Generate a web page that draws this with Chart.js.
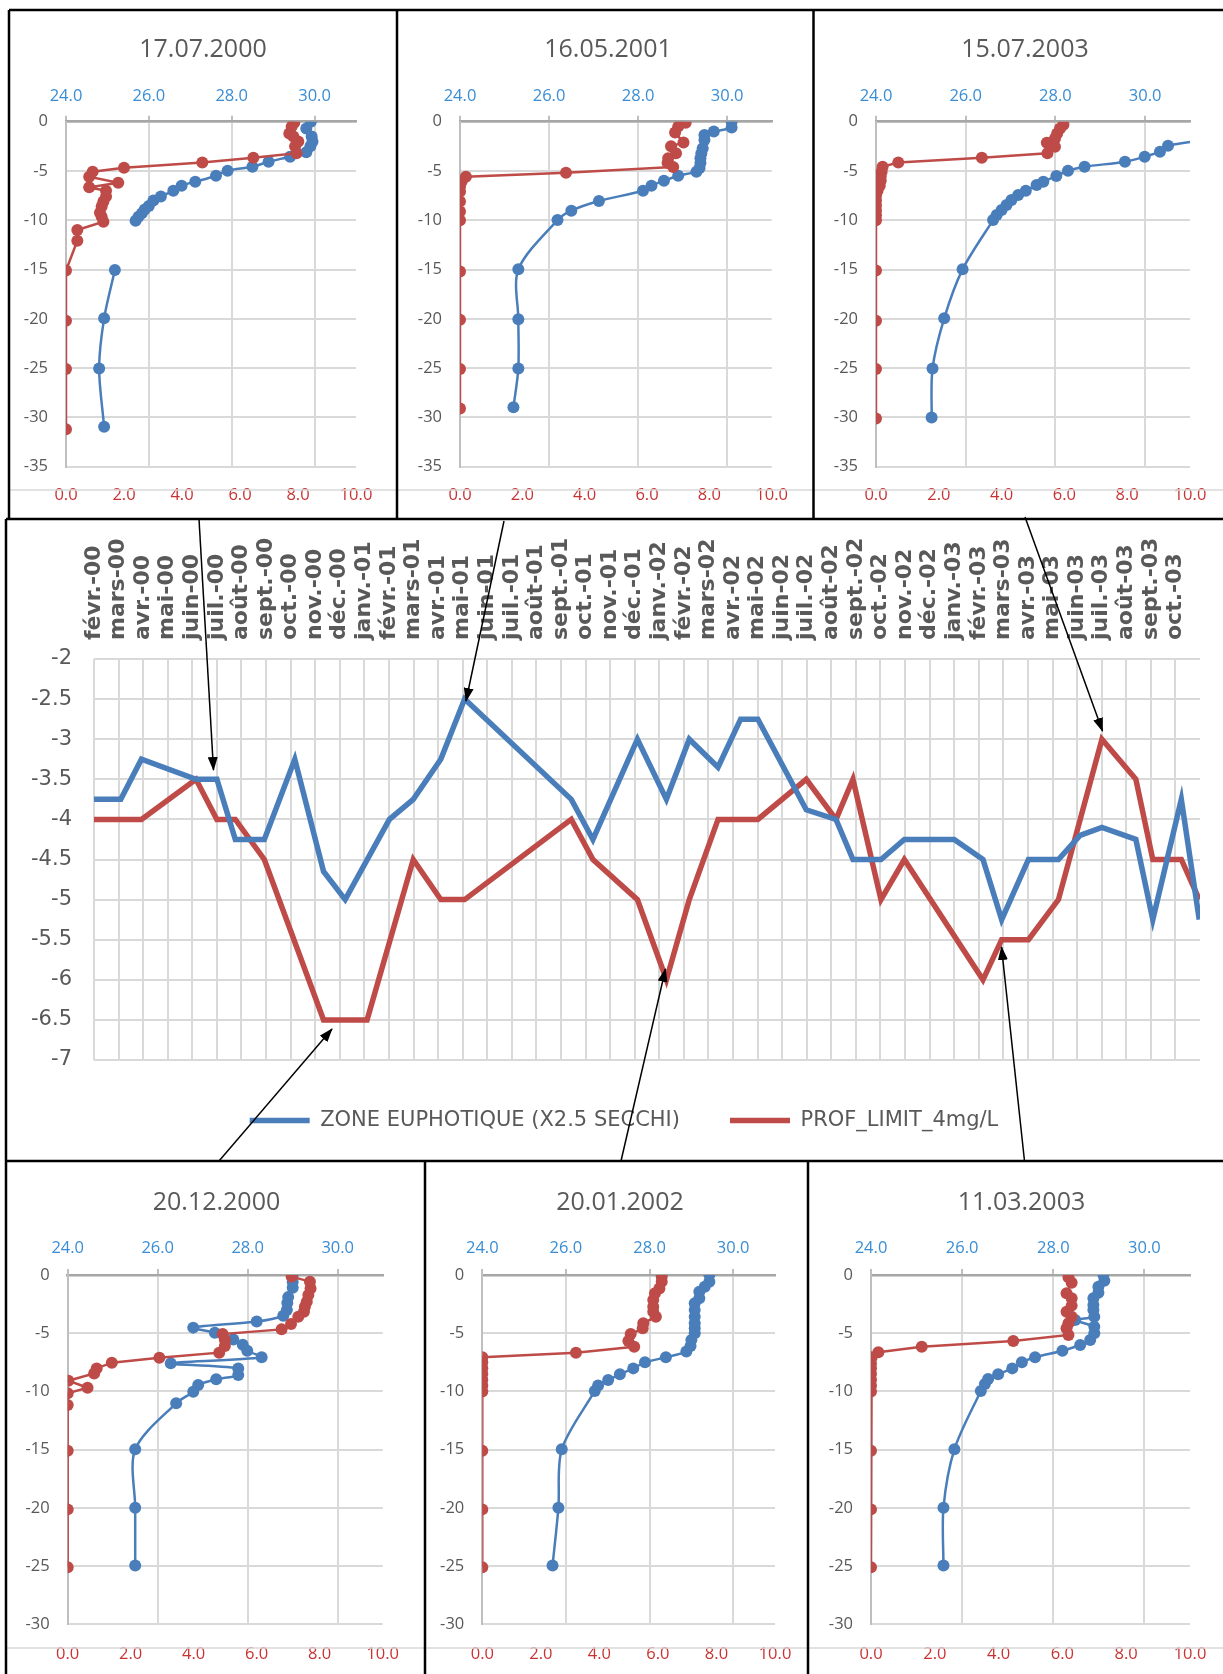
<!DOCTYPE html>
<html>
<head>
<meta charset="utf-8">
<script src="https://cdn.jsdelivr.net/npm/chart.js@4.4.1/dist/chart.umd.min.js"></script>
<style>
  body { margin: 0; background: #fff; }
  #page { position: relative; width: 1223px; height: 1674px; overflow: hidden; background: #fff; }
  canvas { position: absolute; }
  svg { position: absolute; left: 0; top: 0; pointer-events: none; }
</style>
</head>
<body>
<div id="page">
  <canvas id="p1"></canvas>
  <canvas id="p2"></canvas>
  <canvas id="p3"></canvas>
  <canvas id="main"></canvas>
  <canvas id="p4"></canvas>
  <canvas id="p5"></canvas>
  <canvas id="p6"></canvas>
  <svg width="1223" height="1674">
    <defs>
      <marker id="ah" markerWidth="14" markerHeight="10" refX="13" refY="5" orient="auto" markerUnits="userSpaceOnUse">
        <path d="M0,0 L14,5 L0,10 z" fill="#000"/>
      </marker>
    </defs>
    <g stroke="#d9d9d9" stroke-width="1.5">
      <line x1="9" y1="490" x2="1223" y2="490"/>
      <line x1="6" y1="1648" x2="1223" y2="1648"/>
    </g>
    <g stroke="#000" stroke-width="2.5" fill="none">
      <line x1="9" y1="10" x2="1223" y2="10"/>
      <line x1="9" y1="10" x2="9" y2="519"/>
      <line x1="397" y1="10" x2="397" y2="519"/>
      <line x1="813.5" y1="10" x2="813.5" y2="519"/>
      <line x1="6" y1="519" x2="1223" y2="519"/>
      <line x1="6" y1="519" x2="6" y2="1674"/>
      <line x1="6" y1="1161" x2="1223" y2="1161"/>
      <line x1="425" y1="1161" x2="425" y2="1674"/>
      <line x1="808" y1="1161" x2="808" y2="1674"/>
    </g>
    <g stroke="#000" stroke-width="1.5" marker-end="url(#ah)">
      <line x1="199" y1="519" x2="213.5" y2="770"/>
      <line x1="504" y1="521" x2="466" y2="701"/>
      <line x1="1025" y1="517" x2="1102.5" y2="731"/>
      <line x1="219" y1="1161" x2="332" y2="1029"/>
      <line x1="621" y1="1161" x2="665.5" y2="969"/>
      <line x1="1024.5" y1="1161" x2="1001.5" y2="947"/>
    </g>
  </svg>
</div>
<script>
const BLUE = '#4A7EBB';
const RED = '#BE4B48';
const GREY_TEXT = '#595959';

// --- chronique mensuelle (axe en mois depuis févr.-00) ---
const monthLabels = ['févr.-00','mars-00','avr.-00','mai-00','juin-00','juil.-00','août-00','sept.-00','oct.-00','nov.-00','déc.-00',
  'janv.-01','févr.-01','mars-01','avr.-01','mai-01','juin-01','juil.-01','août-01','sept.-01','oct.-01','nov.-01','déc.-01',
  'janv.-02','févr.-02','mars-02','avr.-02','mai-02','juin-02','juil.-02','août-02','sept.-02','oct.-02','nov.-02','déc.-02',
  'janv.-03','févr.-03','mars-03','avr.-03','mai-03','juin-03','juil.-03','août-03','sept.-03','oct.-03'];
const sampleMonths = [0, 1.09, 1.93, 4.15, 5.0, 5.75, 6.93, 8.17, 9.34, 10.22, 11.11, 12.02, 12.99, 14.11, 15.08, 19.42, 20.3,
  22.11, 23.29, 24.22, 25.39, 26.31, 27.01, 28.98, 30.19, 30.88, 32.02, 32.97, 35.0, 36.17, 36.93, 38.02, 39.24, 40.12,
  41.01, 42.39, 43.08, 44.24, 44.97];
const zoneEuphotique = [-3.75, -3.75, -3.25, -3.5, -3.5, -4.25, -4.25, -3.25, -4.65, -5, null, -4, -3.75, -3.25, -2.5, -3.75, -4.25,
  -3, -3.75, -3, -3.35, -2.75, -2.75, -3.88, -4, -4.5, -4.5, -4.25, -4.25, -4.5, -5.25, -4.5, -4.5, -4.2,
  -4.1, -4.25, -5.25, -3.75, -5.25];
const profLimit = [-4, null, -4, -3.5, -4, -4, -4.5, null, -6.5, null, -6.5, null, -4.5, -5, -5, -4, -4.5,
  -5, -6, -5, -4, null, -4, -3.5, -4, -3.5, -5, -4.5, null, -6, -5.5, -5.5, -5, null,
  -3, -3.5, -4.5, -4.5, -5];

// --- profils verticaux : [valeur, profondeur] ---
const temp_17072000 = [[29.91,0],[29.8,-0.7],[29.93,-1.5],[29.95,-2.0],[29.9,-2.5],[29.8,-3.1],[29.41,-3.55],[28.89,-4.06],[28.5,-4.57],
  [27.9,-4.97],[27.62,-5.48],[27.12,-6.09],[26.79,-6.49],[26.59,-7.0],[26.29,-7.6],[26.11,-8.0],[26.0,-8.56],[25.9,-8.9],
  [25.83,-9.3],[25.75,-9.64],[25.68,-10.04],null,[25.18,-15.05],[24.92,-19.95],[24.8,-25.03],[24.92,-30.94]];
const oxy_17072000 = [[7.87,-0.1],[7.78,-0.5],[7.7,-1.2],[7.84,-1.5],[8.01,-2.0],[7.9,-2.5],[7.95,-3.2],[6.46,-3.65],[4.7,-4.13],
  [2.0,-4.67],[0.92,-5.07],[0.8,-5.58],[1.8,-6.19],[0.8,-6.66],[1.38,-7.0],[1.38,-7.6],[1.29,-8.1],[1.23,-8.6],[1.17,-9.23],
  [1.23,-9.64],[1.29,-10.15],[0.39,-10.99],[0.39,-12.07],[0,-15.1],[0,-20.2],[0,-25.1],[0,-31.2]];

const temp_16052001 = [[30.1,0],[30.1,-0.6],[29.7,-1.0],[29.49,-1.35],[29.49,-1.86],[29.45,-2.7],[29.42,-3.2],[29.4,-3.7],[29.4,-4.2],
  [29.38,-4.7],[29.31,-5.07],[28.9,-5.48],[28.58,-5.99],[28.3,-6.49],[28.11,-7.0],[27.12,-8.05],[26.5,-9.03],[26.19,-9.98],
  [25.31,-14.98],[25.31,-20.05],[25.31,-25.03],[25.2,-28.98]];
const oxy_16052001 = [[7.24,-0.1],[7.0,-0.5],[6.9,-1.1],[7.17,-2.1],[6.77,-2.5],[6.93,-3.2],[6.68,-3.7],[6.66,-4.2],[6.84,-4.6],
  [3.4,-5.17],[0.19,-5.58],[0.05,-6.09],[0,-6.6],[0,-7.1],[0,-8.1],[0,-9.1],[0,-10.0],[0,-15.2],[0,-20.1],[0,-25.1],[0,-29.1]];

const temp_15072003 = [[31.6,-1.7],[30.51,-2.43],[30.33,-3.04],[29.99,-3.55],[29.55,-4.06],[28.65,-4.57],[28.28,-4.97],[28.02,-5.51],
  [27.73,-6.09],[27.58,-6.43],[27.34,-7.0],[27.17,-7.44],[27.02,-7.95],[26.91,-8.45],[26.8,-8.96],[26.69,-9.47],[26.61,-9.98],
  [25.93,-14.98],[25.52,-19.95],[25.26,-25.03],[25.24,-30.0]];
const oxy_15072003 = [[5.97,-0.3],[5.86,-0.7],[5.77,-1.2],[5.7,-1.7],[5.44,-2.13],[5.7,-2.54],[5.46,-3.21],[3.37,-3.65],[0.71,-4.13],
  [0.21,-4.57],[0.18,-5.07],[0.15,-5.58],[0.15,-6.0],[0.12,-6.5],[0.05,-7.0],[0,-7.5],[0,-8.0],[0,-8.5],[0,-9.0],[0,-9.5],
  [0,-10.0],[0,-15.1],[0,-20.2],[0,-25.1],[0,-30.1]];

const temp_20122000 = [[29.0,0],[29.0,-0.6],[29.0,-1.1],[28.9,-1.9],[28.88,-2.4],[28.87,-3.0],[28.79,-3.5],[28.2,-4.0],[26.79,-4.52],
  [27.27,-4.95],[27.68,-5.53],[27.89,-6.0],[27.99,-6.5],[28.31,-7.07],[26.29,-7.59],[27.79,-8.02],[27.79,-8.59],[27.3,-8.96],
  [26.9,-9.45],[26.79,-10.02],[26.41,-11.02],[25.5,-14.97],[25.5,-19.98],[25.5,-24.96]];
const oxy_20122000 = [[7.11,-0.14],[7.69,-0.57],[7.71,-1.15],[7.64,-1.72],[7.59,-2.29],[7.53,-2.72],[7.5,-3.15],[7.32,-3.58],
  [7.09,-4.21],[6.79,-4.67],[4.92,-5.07],[4.99,-5.58],[4.99,-6.1],[4.81,-6.67],[2.91,-7.1],[1.4,-7.53],[0.92,-8.02],[0.84,-8.45],
  [0.02,-9.08],[0.63,-9.68],[0,-10.16],[0,-11.17],[0,-15.09],[0,-20.13],[0,-25.1]];

const temp_20012002 = [[29.43,0],[29.43,-0.57],[29.32,-1.0],[29.19,-1.43],[29.19,-2.0],[29.08,-2.43],[29.08,-3.0],[29.08,-3.58],
  [29.08,-4.15],[29.08,-4.58],[29.08,-5.0],[29.0,-5.58],[28.98,-6.1],[28.88,-6.58],[28.39,-7.07],[27.89,-7.5],[27.61,-8.02],
  [27.29,-8.53],[27.01,-9.02],[26.77,-9.5],[26.69,-9.96],[25.9,-14.97],[25.82,-19.98],[25.68,-24.96]];
const oxy_20012002 = [[6.13,-0.14],[6.13,-0.57],[6.05,-1.15],[5.9,-1.57],[5.84,-2.15],[5.84,-2.72],[5.84,-3.15],[5.93,-3.58],
  [5.5,-4.15],[5.48,-4.58],[5.07,-5.07],[4.99,-5.67],[5.19,-6.16],[3.2,-6.67],[0,-7.07],[0,-7.5],[0,-8.0],[0,-8.5],[0,-9.0],
  [0,-9.5],[0,-10.0],[0,-15.09],[0,-20.13],[0,-25.1]];

const temp_11032003 = [[29.1,0],[29.12,-0.49],[28.99,-1.0],[28.99,-1.52],[28.88,-2.0],[28.88,-2.58],[28.88,-3.0],[28.9,-3.58],
  [28.48,-3.87],[28.9,-4.44],[28.9,-5.0],[28.81,-5.58],[28.59,-6.01],[28.2,-6.5],[27.6,-7.07],[27.31,-7.5],[27.1,-8.02],
  [26.79,-8.53],[26.57,-8.93],[26.5,-9.36],[26.41,-9.96],[25.83,-14.97],[25.59,-19.98],[25.59,-24.96]];
const oxy_11032003 = [[6.19,-0.2],[6.29,-0.66],[6.13,-1.57],[6.29,-2.0],[6.29,-2.63],[6.13,-3.15],[6.29,-3.58],[6.19,-4.15],
  [6.13,-4.58],[6.19,-5.15],[4.46,-5.67],[1.59,-6.16],[0.23,-6.64],[0.02,-7.07],[0,-7.6],[0,-8.0],[0,-8.5],[0,-9.0],[0,-9.5],
  [0,-10.0],[0,-15.09],[0,-20.13],[0,-25.1]];

const tempTicks = { min: 24, max: 31, step: 2 };
const oxyTicks = { min: 0, max: 10, step: 2 };

function toPoints(pairs) {
  return pairs.map(p => p ? { x: p[0], y: p[1] } : { x: null, y: null });
}

// axe vide à droite : réserve la marge sans décaler le titre / la légende
function spacer(width) {
  return {
    type: 'linear', position: 'right', display: true,
    afterFit: s => { s.width = width; },
    ticks: { display: false }, grid: { display: false }, border: { display: false }
  };
}

// petit graphique de profil : température (axe haut) et oxygène (axe bas)
function profile(id, box, plot, title, yMin, temp, oxy, tickPadTop, tickPadBottom) {
  const cv = document.getElementById(id);
  cv.width = box.w; cv.height = box.h;
  cv.style.left = box.x + 'px'; cv.style.top = box.y + 'px';
  const titleTop = box.titleY - box.y - 15;
  const tickFont = { family: 'Open Sans', size: 16.5 };
  new Chart(cv, {
    type: 'scatter',
    data: {
      datasets: [{
        data: toPoints(temp), xAxisID: 'xT', yAxisID: 'y', showLine: true,
        borderColor: BLUE, backgroundColor: BLUE, borderWidth: 2.5, pointRadius: 6, pointBorderWidth: 0,
        tension: 0.3, spanGaps: false, order: 2
      }, {
        data: toPoints(oxy), xAxisID: 'xO', yAxisID: 'y', showLine: true,
        borderColor: RED, backgroundColor: RED, borderWidth: 2.5, pointRadius: 6, pointBorderWidth: 0,
        tension: 0, order: 1
      }]
    },
    options: {
      responsive: false, animation: false, devicePixelRatio: 1,
      layout: { padding: 0 },
      plugins: {
        legend: { display: false }, tooltip: { enabled: false },
        title: { display: true, text: title, color: GREY_TEXT, font: { family: 'Open Sans', size: 25, weight: 'normal', lineHeight: 1.2 },
          padding: { top: titleTop, bottom: 0 } }
      },
      scales: {
        xT: {
          type: 'linear', position: 'top', min: tempTicks.min, max: tempTicks.max,
          afterFit: s => { s.height = plot.t - box.y - (titleTop + 30); },
          ticks: { stepSize: tempTicks.step, includeBounds: false, padding: tickPadTop, color: '#3A8DD4', font: tickFont,
            callback: v => v.toFixed(1) },
          grid: { color: '#D9D9D9', lineWidth: 2, drawTicks: true, tickLength: 6, tickColor: '#BFBFBF' },
          border: { display: true, color: '#A6A6A6', width: 2.5 }
        },
        xO: {
          type: 'linear', position: 'bottom', min: oxyTicks.min, max: oxyTicks.max,
          afterFit: s => { s.height = box.y + box.h - plot.b; },
          ticks: { stepSize: oxyTicks.step, padding: tickPadBottom, color: '#C83232', font: tickFont, callback: v => v.toFixed(1) },
          grid: { display: false }, border: { display: false }
        },
        y: {
          type: 'linear', min: yMin, max: 0,
          afterFit: s => { s.width = plot.l - box.x; },
          ticks: { stepSize: 5, padding: 18, color: GREY_TEXT, font: tickFont },
          grid: { color: '#D9D9D9', lineWidth: 2, drawTicks: false },
          border: { display: true, color: '#BFBFBF', width: 2 }
        },
        rightMargin: spacer(box.x + box.w - plot.r)
      }
    }
  });
}

profile('p1', { x: 9, y: 12, w: 388, h: 505, titleY: 50 }, { l: 66, r: 356, t: 121.7, b: 466.7 }, '17.07.2000', -35, temp_17072000, oxy_17072000, 10, 11);
profile('p2', { x: 400, y: 12, w: 416, h: 505, titleY: 50 }, { l: 460, r: 771.7, t: 121.7, b: 466.7 }, '16.05.2001', -35, temp_16052001, oxy_16052001, 10, 11);
profile('p3', { x: 827, y: 12, w: 396, h: 505, titleY: 50 }, { l: 876, r: 1190, t: 121.7, b: 466.7 }, '15.07.2003', -35, temp_15072003, oxy_15072003, 10, 11);
profile('p4', { x: 8, y: 1163, w: 417, h: 511, titleY: 1203 }, { l: 67.7, r: 382.7, t: 1275, b: 1624.3 }, '20.12.2000', -30, temp_20122000, oxy_20122000, 11, 12);
profile('p5', { x: 427, y: 1163, w: 386, h: 511, titleY: 1203 }, { l: 482.3, r: 775, t: 1275, b: 1624.3 }, '20.01.2002', -30, temp_20012002, oxy_20012002, 11, 12);
profile('p6', { x: 820, y: 1163, w: 403, h: 511, titleY: 1203 }, { l: 871, r: 1190, t: 1275, b: 1624.3 }, '11.03.2003', -30, temp_11032003, oxy_11032003, 11, 12);

// graphique central
const mainCv = document.getElementById('main');
mainCv.width = 1236; mainCv.height = 640;
mainCv.style.left = '6px'; mainCv.style.top = '521px';
new Chart(mainCv, {
  type: 'line',
  data: {
    datasets: [{
      label: 'ZONE EUPHOTIQUE (X2.5 SECCHI)',
      data: sampleMonths.map((m, i) => ({ x: m, y: zoneEuphotique[i] })),
      borderColor: BLUE, backgroundColor: BLUE, borderWidth: 5.5, pointRadius: 0, spanGaps: true, tension: 0
    }, {
      label: 'PROF_LIMIT_4mg/L',
      data: sampleMonths.map((m, i) => ({ x: m, y: profLimit[i] })),
      borderColor: RED, backgroundColor: RED, borderWidth: 5.5, pointRadius: 0, spanGaps: true, tension: 0
    }]
  },
  options: {
    responsive: false, animation: false, devicePixelRatio: 1,
    layout: { padding: { left: 0, top: 0, right: 0, bottom: 20 } },
    plugins: {
      tooltip: { enabled: false },
      legend: {
        position: 'bottom',
        labels: { usePointStyle: true, pointStyle: 'line', pointStyleWidth: 60, padding: 50, color: GREY_TEXT,
          font: { family: 'DejaVu Sans', size: 21 } }
      }
    },
    scales: {
      x: {
        type: 'linear', position: 'top', min: 0, max: monthLabels.length,
        afterFit: s => { s.height = 138; },
        ticks: { stepSize: 1, autoSkip: false, minRotation: 90, maxRotation: 90, padding: 19, labelOffset: 26.4, color: GREY_TEXT,
          font: { family: 'DejaVu Sans', size: 22, weight: 'bold' },
          callback: v => monthLabels[v] || '' },
        grid: { color: c => (c.tick && c.tick.value === monthLabels.length) ? 'rgba(0,0,0,0)' : '#D9D9D9', lineWidth: 2, drawTicks: false },
        border: { display: false }
      },
      y: {
        min: -7, max: -2,
        afterFit: s => { s.width = 88; },
        ticks: { stepSize: 0.5, padding: 22, color: GREY_TEXT, font: { family: 'DejaVu Sans', size: 21 },
          callback: v => String(v) },
        grid: { color: '#D9D9D9', lineWidth: 2, drawTicks: false },
        border: { display: false }
      },
      rightMargin: spacer(42)
    }
  }
});
</script>
</body>
</html>
